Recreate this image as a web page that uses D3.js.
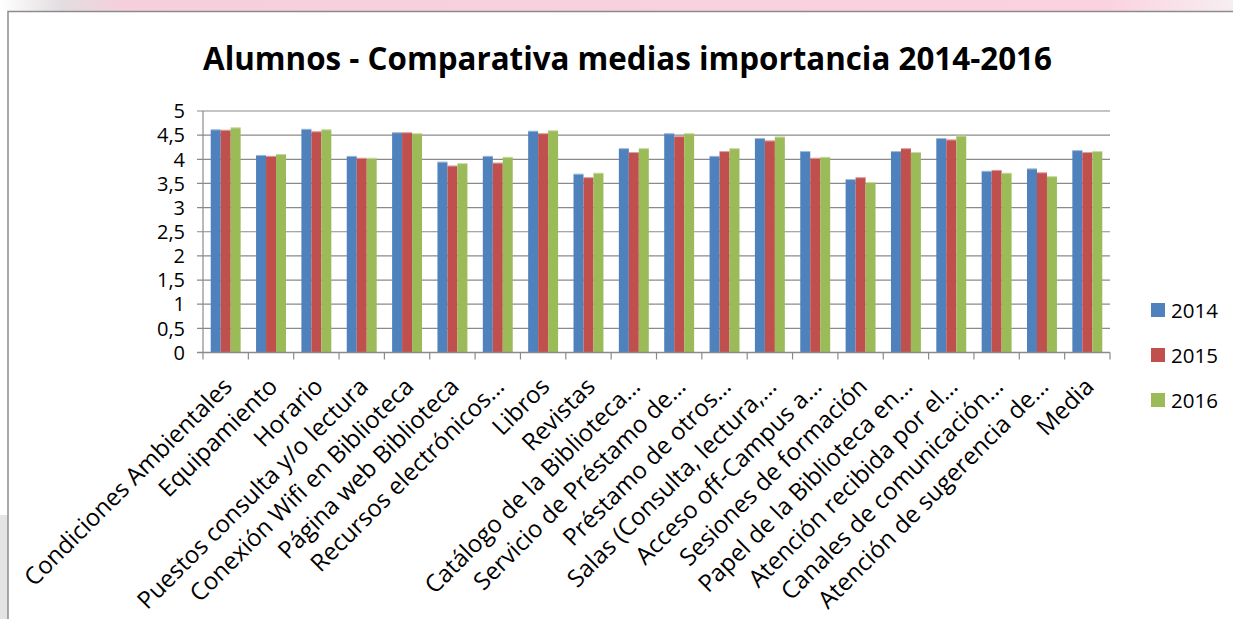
<!DOCTYPE html>
<html>
<head>
<meta charset="utf-8">
<script src="https://cdn.jsdelivr.net/npm/d3@7"></script>
<style>
  html, body { margin: 0; padding: 0; background: #fff; }
  svg { display: block; }
  text { font-family: "Open Sans", Lato, sans-serif; fill: #000; font-variant-ligatures: none; }
</style>
</head>
<body>
<svg id="chart" width="1233" height="619"></svg>
<script>
// ---- data ----
var categories = [
  "Condiciones Ambientales", "Equipamiento", "Horario", "Puestos consulta y/o lectura",
  "Conexión Wifi en Biblioteca", "Página web Biblioteca", "Recursos electrónicos…", "Libros",
  "Revistas", "Catálogo de la Biblioteca…", "Servicio de Préstamo de…", "Préstamo de otros…",
  "Salas (Consulta, lectura,…", "Acceso off-Campus a…", "Sesiones de formación",
  "Papel de la Biblioteca en…", "Atención recibida por el…", "Canales de comunicación…",
  "Atención de sugerencia de…", "Media"
];
var years = ["2014", "2015", "2016"];
var v2014 = [4.62, 4.09, 4.63, 4.07, 4.56, 3.95, 4.07, 4.59, 3.70, 4.23, 4.54, 4.07, 4.44, 4.17, 3.59, 4.17, 4.44, 3.76, 3.81, 4.19];
var v2015 = [4.61, 4.07, 4.58, 4.03, 4.56, 3.87, 3.93, 4.54, 3.63, 4.15, 4.48, 4.17, 4.39, 4.03, 3.63, 4.23, 4.41, 3.78, 3.73, 4.15];
var v2016 = [4.66, 4.11, 4.62, 4.03, 4.54, 3.92, 4.05, 4.60, 3.72, 4.23, 4.54, 4.23, 4.47, 4.05, 3.53, 4.15, 4.49, 3.72, 3.65, 4.17];
var yTicks = [0, 0.5, 1, 1.5, 2, 2.5, 3, 3.5, 4, 4.5, 5];
var colors = ["#4F81BD", "#C0504D", "#9BBB59"];

var series = [v2014, v2015, v2016];
var table = categories.map(function(c, i) {
  return { cat: c, vals: series.map(function(s) { return s[i]; }) };
});

var svg = d3.select("#chart");
var fmt = function(d) { return String(d).replace(".", ","); };

// ---- background scraps of the slide ----
var grad = svg.append("defs").append("linearGradient").attr("id", "topband");
grad.append("stop").attr("offset", "0").attr("stop-color", "#ffffff");
grad.append("stop").attr("offset", "0.05").attr("stop-color", "#e2dde0");
grad.append("stop").attr("offset", "0.1").attr("stop-color", "#f6cfdc");
grad.append("stop").attr("offset", "0.9").attr("stop-color", "#fbd3e0");
grad.append("stop").attr("offset", "1").attr("stop-color", "#f6eef2");
svg.append("rect").attr("x", 0).attr("y", 0).attr("width", 1233).attr("height", 11).attr("fill", "url(#topband)");
svg.append("rect").attr("x", 0).attr("y", 515).attr("width", 8).attr("height", 104).attr("fill", "#e4e4e4");

// chart frame
svg.append("path").attr("d", "M8,619V11.5H1233")
  .attr("fill", "none").attr("stroke", "#8c8c8c").attr("stroke-width", 1.5);

// ---- scales ----
var x0 = d3.scaleBand().domain(categories).range([203, 1110]).paddingInner(0.34).paddingOuter(0.17);
var x1 = d3.scaleBand().domain(years).range([0, x0.bandwidth()]);
var y = d3.scaleLinear().domain([0, 5]).range([352.5, 111]);

// gridlines
svg.append("g").selectAll("line").data(yTicks).enter().append("line")
  .attr("x1", 197).attr("x2", 1110)
  .attr("y1", function(d) { return y(d); }).attr("y2", function(d) { return y(d); })
  .attr("stroke", "#8a8a8a").attr("stroke-width", 1.2);

// y labels
svg.append("g").selectAll("text").data(yTicks).enter().append("text")
  .attr("x", 185).attr("y", function(d) { return y(d); })
  .attr("dy", "0.36em").attr("text-anchor", "end")
  .style("font-size", "20px")
  .text(fmt);

// bars
var groups = svg.append("g").selectAll("g").data(table).enter().append("g")
  .attr("transform", function(d) { return "translate(" + x0(d.cat) + ",0)"; });
groups.selectAll("rect").data(function(d) { return d.vals; }).enter().append("rect")
  .attr("x", function(d, i) { return x1(years[i]); })
  .attr("y", function(d) { return y(d); })
  .attr("width", x1.bandwidth())
  .attr("height", function(d) { return y(0) - y(d); })
  .attr("fill", function(d, i) { return colors[i]; });
groups.selectAll("line.hl").data(function(d) { return d.vals; }).enter().append("line")
  .attr("class", "hl")
  .attr("x1", function(d, i) { return x1(years[i]); })
  .attr("x2", function(d, i) { return x1(years[i]) + x1.bandwidth(); })
  .attr("y1", function(d) { return y(d) + 0.5; }).attr("y2", function(d) { return y(d) + 0.5; })
  .attr("stroke", "#fff").attr("stroke-opacity", 0.45);

// axes lines
var step = x0.step();
var edges = categories.map(function(c) { return x0(c) - step * x0.paddingInner() / 2; });
edges.push(1110);
svg.append("line").attr("x1", 203).attr("x2", 203).attr("y1", y(5)).attr("y2", y(0))
  .attr("stroke", "#8a8a8a").attr("stroke-width", 1.2);
svg.append("line").attr("x1", 197).attr("x2", 1110).attr("y1", y(0)).attr("y2", y(0))
  .attr("stroke", "#8a8a8a").attr("stroke-width", 1.5);
svg.append("g").selectAll("line").data(edges).enter().append("line")
  .attr("x1", function(d) { return d; }).attr("x2", function(d) { return d; })
  .attr("y1", y(0)).attr("y2", y(0) + 7)
  .attr("stroke", "#8a8a8a").attr("stroke-width", 1.2);

// category labels
svg.append("g").selectAll("text").data(categories).enter().append("text")
  .attr("text-anchor", "end")
  .attr("transform", function(d) {
    return "translate(" + (x0(d) + x0.bandwidth() / 2 + 8) + ",388) rotate(-45)";
  })
  .style("font-size", "24px")
  .text(function(d) { return d; });

// title
var title = svg.append("text")
  .attr("x", 627.5).attr("y", 70).attr("text-anchor", "middle")
  .style("font-size", "30px").style("font-weight", "bold")
  .text("Alumnos - Comparativa medias importancia 2014-2016");
var tw = title.node().getComputedTextLength();
title.style("font-size", (30 * 849 / tw) + "px");

// legend
var legend = svg.append("g").selectAll("g").data(years).enter().append("g")
  .attr("transform", function(d, i) { return "translate(1151," + (303 + i * 45) + ")"; });
legend.append("rect").attr("width", 14).attr("height", 14)
  .attr("fill", function(d, i) { return colors[i]; });
legend.append("text").attr("x", 20).attr("y", 14.5)
  .style("font-size", "20.5px")
  .text(function(d) { return d; });
</script>
</body>
</html>
